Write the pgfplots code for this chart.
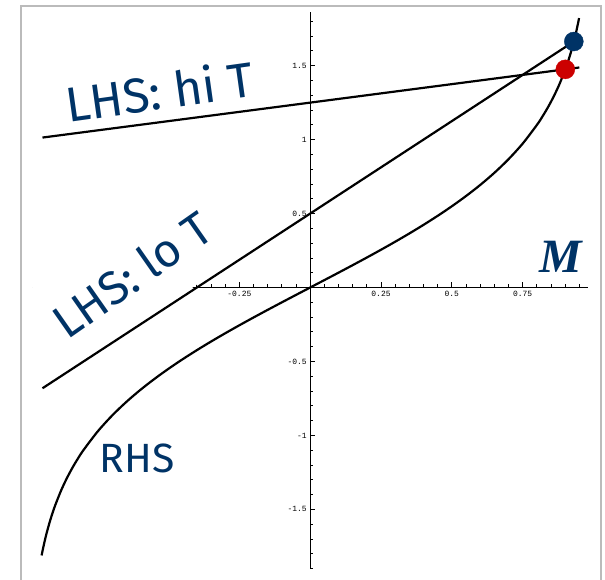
\documentclass[border=0pt]{standalone}
\usepackage{pgfplots}
\pgfplotsset{compat=1.18}
\usepackage{fontspec}
\setmainfont{Fira Sans}
\newfontfamily\labelfont{Fira Sans}
\newfontfamily\tickfont{Liberation Mono}
\newfontfamily\mfont{Liberation Serif}
\definecolor{navy}{HTML}{003366}
\definecolor{dotred}{HTML}{CC0000}
\definecolor{framegray}{HTML}{BBBBBB}

% RHS = artanh(M), tabulated
\pgfplotstableread{
M      R
-0.948 -1.8117
-0.945 -1.7828
-0.940 -1.7380
-0.935 -1.6967
-0.930 -1.6584
-0.920 -1.5890
-0.910 -1.5275
-0.900 -1.4722
-0.880 -1.3758
-0.860 -1.2934
-0.840 -1.2212
-0.820 -1.1568
-0.800 -1.0986
-0.750 -0.9730
-0.700 -0.8673
-0.650 -0.7753
-0.600 -0.6931
-0.550 -0.6184
-0.500 -0.5493
-0.450 -0.4847
-0.400 -0.4236
-0.350 -0.3654
-0.300 -0.3095
-0.250 -0.2554
-0.200 -0.2027
-0.150 -0.1511
-0.100 -0.1003
-0.050 -0.0500
 0.000  0.0000
 0.050  0.0500
 0.100  0.1003
 0.150  0.1511
 0.200  0.2027
 0.250  0.2554
 0.300  0.3095
 0.350  0.3654
 0.400  0.4236
 0.450  0.4847
 0.500  0.5493
 0.550  0.6184
 0.600  0.6931
 0.650  0.7753
 0.700  0.8673
 0.750  0.9730
 0.800  1.0986
 0.820  1.1568
 0.840  1.2212
 0.860  1.2934
 0.880  1.3758
 0.900  1.4722
 0.910  1.5275
 0.920  1.5890
 0.930  1.6584
 0.935  1.6967
 0.940  1.7380
 0.945  1.7828
 0.949  1.8217
}\rhstable

\begin{document}
\begin{tikzpicture}
\useasboundingbox (-310.2bp,-292.5bp) rectangle (294.8bp,287.5bp);
\begin{axis}[
  at={(0,0)}, anchor=origin,
  x=283.3bp, y=147.9bp,
  xmin=-0.98, xmax=0.98, ymin=-1.9, ymax=1.86,
  axis lines=middle,
  clip=false,
  axis line style={-, line width=1.2bp, black},
  tick align=inside,
  major tick length=5bp,
  minor tick length=3bp,
  tick style={black, line width=0.8bp},
  xtick={-0.25,0.25,0.5,0.75},
  xticklabels={-0.25,0.25,0.5,0.75},
  minor xtick={-0.95,-0.9,-0.85,-0.8,-0.75,-0.7,-0.65,-0.6,-0.55,-0.5,-0.45,-0.4,-0.35,-0.3,-0.2,-0.15,-0.1,-0.05,0.05,0.1,0.15,0.2,0.3,0.35,0.4,0.45,0.55,0.6,0.65,0.7,0.8,0.85,0.9,0.95},
  ytick={-1.5,-1,-0.5,0.5,1,1.5},
  yticklabels={-1.5,-1,-0.5,0.5,1,1.5},
  minor ytick={-1.9,-1.8,-1.7,-1.6,-1.4,-1.3,-1.2,-1.1,-0.9,-0.8,-0.7,-0.6,-0.4,-0.3,-0.2,-0.1,0.1,0.2,0.3,0.4,0.6,0.7,0.8,0.9,1.1,1.2,1.3,1.4,1.6,1.7,1.8},
  ticklabel style={font=\tickfont\fontsize{8}{8}\selectfont, text=black},
]
% label box that masks the left part of the horizontal axis
\node[fill=white, inner xsep=16bp, inner ysep=28bp, rotate=35, text=navy,
      font=\labelfont\fontsize{47}{47}\selectfont] at (axis cs:-0.63,0.09) {LHS: lo T};
\node[rotate=8, text=navy, font=\labelfont\fontsize{49}{49}\selectfont]
      at (axis cs:-0.532,1.33) {LHS: hi T};
\node[text=navy, font=\labelfont\fontsize{41}{41}\selectfont]
      at (axis cs:-0.611,-1.153) {RHS};
\node[text=navy, font=\mfont\bfseries\itshape\fontsize{48}{48}\selectfont]
      at (axis cs:0.886,0.206) {M};

% LHS at high T: M/T + h/T
\addplot[black, line width=2.2bp] coordinates {(-0.945,1.0138) (0.95,1.4875)};
% LHS at low T
\addplot[black, line width=2.2bp] coordinates {(-0.945,-0.6813) (0.9305,1.6631)};
% RHS
\addplot[black, line width=2.2bp, smooth] table[x=M, y=R] {\rhstable};
% solutions
\addplot[only marks, mark=*, mark size=9.5bp, color=dotred, mark options={fill=dotred, draw=dotred}] coordinates {(0.9005,1.475)};
\addplot[only marks, mark=*, mark size=9.5bp, color=navy, mark options={fill=navy, draw=navy}] coordinates {(0.9305,1.6631)};
\end{axis}
\draw[framegray, line width=1.3bp] (-289.2bp,-310bp) rectangle (290.8bp,281.5bp);
\end{tikzpicture}
\end{document}
